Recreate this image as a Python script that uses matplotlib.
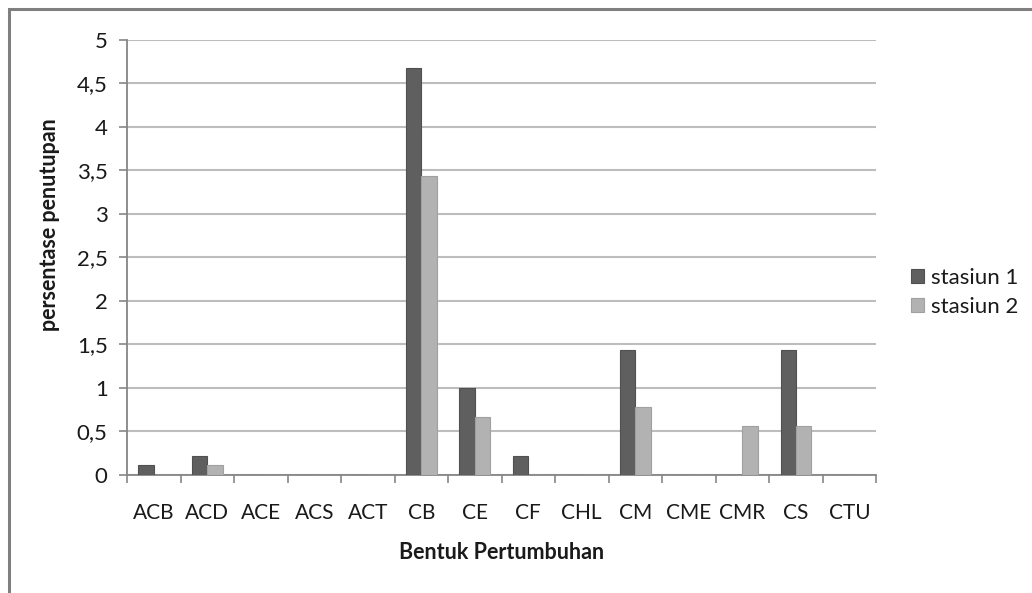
import matplotlib
matplotlib.use("Agg")
import matplotlib.pyplot as plt
import matplotlib.patches as patches
import numpy as np

plt.rcParams['font.family'] = ['Lato', 'DejaVu Sans']

categories = ["ACB", "ACD", "ACE", "ACS", "ACT", "CB", "CE", "CF",
              "CHL", "CM", "CME", "CMR", "CS", "CTU"]
stasiun_1 = [0.11, 0.22, 0, 0, 0, 4.68, 1.0, 0.22, 0, 1.44, 0, 0, 1.44, 0]
stasiun_2 = [0, 0.11, 0, 0, 0, 3.44, 0.67, 0, 0, 0.78, 0, 0.56, 0.56, 0]
y_ticks = [0, 0.5, 1, 1.5, 2, 2.5, 3, 3.5, 4, 4.5, 5]

dark = "#5f5f5f"
light = "#b2b2b2"
axis_col = "#868686"
grid_col = "#bdbdbd"
text_col = "#1a1a1a"

fig = plt.figure(figsize=(10.32, 5.93), dpi=100)
ax = fig.add_axes([0.1231, 0.199, 0.7258, 0.7336])

x = np.arange(len(categories))
w = 0.286
b1 = ax.bar(x - w / 2, stasiun_1, w, color=dark, edgecolor="#505050",
            linewidth=0.8, label="stasiun 1", zorder=3)
b2 = ax.bar(x + w / 2, stasiun_2, w, color=light, edgecolor="#a0a0a0",
            linewidth=0.8, label="stasiun 2", zorder=3)

ax.set_xlim(-0.5, len(categories) - 0.5)
ax.set_ylim(0, 5)
ax.set_yticks(y_ticks)
ax.set_yticklabels([f"{t:g}".replace(".", ",") for t in y_ticks],
                   fontsize=16, color=text_col)
ax.set_xticks(x)
ax.set_xticklabels(categories, fontsize=15, color=text_col)
ax.set_xticks(np.arange(len(categories) + 1) - 0.5, minor=True)

ax.tick_params(axis="x", which="major", length=0, pad=20)
ax.tick_params(axis="x", which="minor", length=6, color=axis_col, width=1.2)
ax.tick_params(axis="y", length=6, color=axis_col, width=1.2, pad=8)

ax.yaxis.grid(True, color=grid_col, linewidth=1.5, zorder=0)
ax.set_axisbelow(True)
for side in ("top", "right"):
    ax.spines[side].set_visible(False)
for side in ("left", "bottom"):
    ax.spines[side].set_color(axis_col)
    ax.spines[side].set_linewidth(1.3)

ax.set_xlabel("Bentuk Pertumbuhan", fontsize=15.5, fontweight="bold",
              color=text_col, labelpad=14)
ax.set_ylabel("persentase penutupan", fontsize=15.5, fontweight="bold",
              color=text_col)
ax.yaxis.set_label_coords(-0.089, 0.575)

ax.legend(handles=[b1, b2], loc="center left", bbox_to_anchor=(1.02, 0.42),
          frameon=False, fontsize=16, handlelength=0.6, handleheight=0.6,
          handletextpad=0.3, labelspacing=0.38, labelcolor=text_col)

# outer chart border (only top and left edges fall inside the image)
border = patches.Rectangle((9 / 1032, -0.1), 1.2, (593 - 9) / 593 + 0.1,
                           transform=fig.transFigure, fill=False,
                           edgecolor="#7f7f7f", linewidth=2.2)
fig.patches.append(border)

fig.savefig("out.png", dpi=100)
